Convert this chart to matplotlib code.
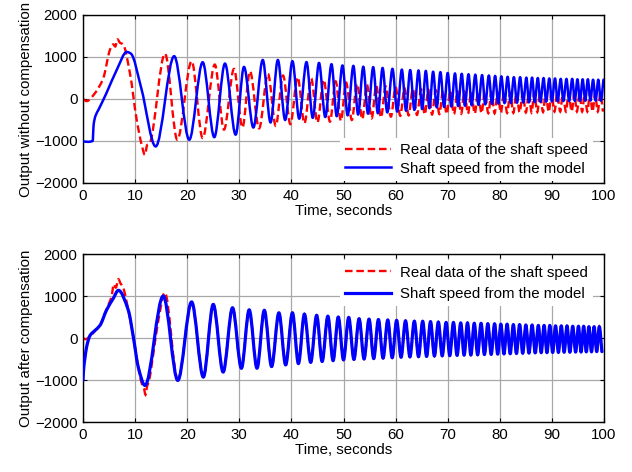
import matplotlib
matplotlib.use("Agg")
import matplotlib.pyplot as plt
import numpy as np
from matplotlib.lines import Line2D
from matplotlib.patches import PathPatch
from matplotlib.path import Path

# ---- top panel: real data (red) ----
top_real_early_t = [0, 0.7, 2.3, 3.9, 5.2, 5.8, 6.2, 6.6, 7.1, 7.7, 9.0, 10.3, 11.26, 11.9, 12.3, 12.8,
                    15.74, 18.1, 20.85, 22.97, 25.3, 27.06, 28.98, 30.6, 32.05]
top_real_early_v = [0, -50, 140, 500, 1180, 1300, 1250, 1420, 1340, 1300, 620, -490, -1090, -1330, -1100, -1050,
                    1080, -970, 900, -930, 820, -730, 717, -680, 660]
top_real_peak_t = [35.5, 38.4, 41.2, 43.8, 46.2, 48.5, 50.5, 52.6, 54.5, 56.3, 58.1, 60.0, 61.7, 63.3, 64.9,
                   66.3, 67.7, 69.1, 70.5, 71.9, 73.2, 74.5, 75.8, 77.1, 78.4, 79.6, 80.8, 82.0, 83.2, 84.4,
                   85.6, 86.6, 87.7, 88.8, 89.9, 91.0, 92.1, 93.2, 94.3, 95.3, 96.3, 97.3, 98.3, 99.3]
top_real_peak_v = [600, 560, 520, 490, 460, 420, 390, 360, 340, 320, 300, 280, 260, 240, 230,
                   220, 210, 200, 190, 180, 175, 170, 165, 160, 155, 150, 150, 145, 145, 140,
                   140, 140, 135, 135, 135, 130, 130, 130, 130, 130, 130, 130, 130, 130]
top_real_trough_t = [33.8, 37.0, 39.8, 42.5, 45.0, 47.4, 49.5, 51.6, 53.6, 55.4, 57.2, 59.1, 60.9, 62.5, 64.1,
                     65.6, 67.0, 68.4, 69.8, 71.2, 72.6, 73.9, 75.2, 76.5, 77.8, 79.0, 80.2, 81.4, 82.6, 83.8,
                     85.0, 86.1, 87.2, 88.3, 89.4, 90.5, 91.6, 92.7, 93.8, 94.8, 95.8, 96.8, 97.8, 98.8, 99.8]
top_real_trough_v = [-700, -640, -600, -580, -560, -540, -520, -500, -480, -460, -440, -420, -400, -390, -380,
                     -370, -370, -360, -360, -360, -350, -350, -350, -340, -340, -340, -330, -330, -330, -320,
                     -320, -320, -310, -310, -310, -300, -300, -300, -300, -300, -300, -300, -300, -300, -300]

# ---- top panel: model without compensation (blue) ----
top_model_early_t = [0, 1.0, 1.85, 2.05, 2.4, 3.0, 4.5, 6.5, 8.4, 9.2, 11.2, 13.95, 17.5, 20.4, 22.97, 25.2,
                     27.25, 29.3, 30.9, 32.7]
top_model_early_v = [-1010, -1020, -1000, -600, -400, -250, 140, 700, 1120, 1080, 250, -1130, 1020, -970, 876,
                     -910, 845, -850, 765, -680]
top_model_peak_t = [34.5, 37.4, 40.2, 42.9, 45.3, 47.7, 49.8, 51.9, 53.8, 55.7, 57.5, 59.4, 61.2, 62.8, 64.4,
                    65.8, 67.2, 68.6, 70.0, 71.4, 72.7, 74.0, 75.3, 76.6, 77.9, 79.1, 80.3, 81.5, 82.7, 83.9,
                    85.1, 86.2, 87.3, 88.4, 89.5, 90.6, 91.7, 92.8, 93.9, 94.9, 95.9, 96.9, 97.9, 98.9, 99.9]
top_model_peak_v = [930, 930, 900, 880, 860, 830, 800, 790, 770, 760, 740, 720, 700, 690, 680,
                    670, 650, 640, 620, 610, 600, 590, 580, 570, 560, 550, 540, 530, 520, 520,
                    510, 510, 500, 500, 490, 490, 480, 480, 480, 470, 470, 470, 460, 460, 460]
top_model_trough_t = [36.0, 38.8, 41.5, 44.1, 46.5, 48.7, 50.8, 52.8, 54.7, 56.6, 58.4, 60.3, 62.0, 63.6, 65.1,
                      66.5, 67.9, 69.3, 70.7, 72.0, 73.3, 74.6, 75.9, 77.2, 78.5, 79.7, 80.9, 82.1, 83.3, 84.5,
                      85.6, 86.7, 87.8, 88.9, 90.0, 91.1, 92.2, 93.3, 94.4, 95.4, 96.4, 97.4, 98.4, 99.4]
top_model_trough_v = [-560, -500, -470, -450, -430, -410, -390, -370, -350, -340, -320, -300, -280, -260, -240,
                      -220, -200, -190, -180, -170, -160, -150, -140, -130, -120, -110, -100, -95, -90, -85,
                      -80, -75, -70, -65, -60, -55, -50, -50, -45, -45, -40, -40, -40, -40]

# ---- bottom panel: model after compensation (blue) ----
bot_model_early_t = [0, 0.15, 0.35, 0.7, 1.35, 2.3, 3.26, 4.5, 5.8, 6.8, 8.7, 9.66, 10.6, 11.9, 15.4, 18.2,
                     20.85, 23.1, 25.0, 26.9, 28.7, 30.4, 31.9, 33.4]
bot_model_early_v = [-1000, -700, -500, -210, 60, 180, 300, 660, 940, 1135, 660, 24, -690, -1130, 1000, -1010,
                     860, -930, 800, -810, 720, -720, 670, -720]
bot_model_peak_t = [34.8, 37.6, 40.2, 42.5, 44.85, 47.0, 49.0, 51.0, 53.0, 54.9, 56.7, 58.5, 60.2, 61.9, 63.6,
                    65.2, 66.7, 68.2, 69.7, 71.1, 72.5, 73.8, 75.1, 76.4, 77.7, 79.0, 80.2, 81.4, 82.6, 83.8,
                    85.0, 86.2, 87.4, 88.5, 89.6, 90.7, 91.8, 92.9, 94.0, 95.1, 96.1, 97.1, 98.1, 99.1]
bot_model_peak_v = [660, 600, 600, 570, 540, 520, 500, 490, 460, 450, 440, 430, 420, 410, 400,
                    400, 390, 380, 370, 370, 360, 360, 350, 350, 340, 340, 330, 330, 320, 320,
                    310, 310, 300, 300, 300, 290, 290, 290, 280, 280, 280, 270, 270, 270]
bot_model_trough_t = [36.2, 38.9, 41.35, 43.7, 45.9, 48.0, 50.0, 52.0, 53.95, 55.8, 57.6, 59.35, 61.05, 62.75,
                      64.4, 65.95, 67.45, 68.95, 70.4, 71.8, 73.15, 74.45, 75.75, 77.05, 78.35, 79.6, 80.8,
                      82.0, 83.2, 84.4, 85.6, 86.8, 87.95, 89.05, 90.15, 91.25, 92.35, 93.45, 94.55, 95.6,
                      96.6, 97.6, 98.6, 99.6]
bot_model_trough_v = [-680, -640, -610, -580, -560, -540, -520, -510, -500, -490, -480, -470, -460, -450,
                      -445, -440, -430, -425, -420, -415, -410, -405, -400, -395, -390, -385, -380,
                      -375, -370, -365, -360, -355, -350, -350, -345, -345, -340, -340, -335, -335,
                      -330, -330, -325, -325]

# ---- bottom panel: real data (red); after ~16 s it lies under the model curve ----
bot_real_early_t = [0, 0.5, 1.5, 2.3, 3.26, 4.5, 5.5, 5.9, 6.3, 6.8, 7.2, 7.7, 8.7, 9.66, 10.6, 11.3, 11.7,
                    12.0, 12.3, 12.7, 13.5, 14.46, 15.7]
bot_real_early_v = [0, -30, 60, 170, 300, 680, 1000, 1280, 1200, 1400, 1300, 1200, 660, 24, -690, -1090, -1200,
                    -1350, -1150, -1000, -370, 420, 1080]

YTICKS = [-2000, -1000, 0, 1000, 2000]
XTICKS = list(range(0, 101, 10))
LABELS = ["Real data of the shaft speed", "Shaft speed from the model"]
RED, BLUE = "#ff0000", "#0000ff"
DASH = (0, (3.2, 1.6))


def series(*parts):
    """Merge (t, v) pieces and sort by time."""
    t = np.concatenate([np.asarray(p[0], float) for p in parts])
    v = np.concatenate([np.asarray(p[1], float) for p in parts])
    order = np.argsort(t, kind="stable")
    return t[order], v[order]


def smooth_path(t, v):
    """Monotone cubic Bezier path through the read points (flat at extrema)."""
    d = np.diff(v) / np.diff(t)
    m = np.empty_like(v)
    m[0], m[-1] = d[0], d[-1]
    same = d[:-1] * d[1:] > 0
    m[1:-1] = np.where(same, 2 * d[:-1] * d[1:] / np.where(same, d[:-1] + d[1:], 1), 0.0)
    verts = [(t[0], v[0])]
    codes = [Path.MOVETO]
    for i in range(len(t) - 1):
        h = (t[i + 1] - t[i]) / 3
        verts += [(t[i] + h, v[i] + m[i] * h), (t[i + 1] - h, v[i + 1] - m[i + 1] * h), (t[i + 1], v[i + 1])]
        codes += [Path.CURVE4] * 3
    return Path(verts, codes)


top_real = series((top_real_early_t, top_real_early_v), (top_real_peak_t, top_real_peak_v),
                  (top_real_trough_t, top_real_trough_v))
top_model = series((top_model_early_t, top_model_early_v), (top_model_peak_t, top_model_peak_v),
                   (top_model_trough_t, top_model_trough_v))
bot_model = series((bot_model_early_t, bot_model_early_v), (bot_model_peak_t, bot_model_peak_v),
                   (bot_model_trough_t, bot_model_trough_v))
keep = bot_model[0] > bot_real_early_t[-1] + 0.5
bot_real = series((bot_real_early_t, bot_real_early_v), (bot_model[0][keep], bot_model[1][keep]))

plt.rcParams["font.family"] = ["Liberation Sans", "DejaVu Sans"]
plt.rcParams["font.size"] = 10.8

fig = plt.figure(figsize=(6.32, 4.72), dpi=100)
ax1 = fig.add_axes([83 / 632, 1 - 183 / 472, 521 / 632, 168 / 472])
ax2 = fig.add_axes([83 / 632, 1 - 422 / 472, 521 / 632, 168 / 472])

panels = [
    (ax1, top_real, top_model, "Output without compensation", 1.8, "lower right", (1 - 9 / 521, 0.0), 0.3),
    (ax2, bot_real, bot_model, "Output after compensation", 2.3, "upper right", (1 - 9 / 521, 1 - 4 / 168), 0.5),
]
for ax, real, model, ylabel, model_lw, loc, anchor, spacing in panels:
    ax.add_patch(PathPatch(smooth_path(*real), facecolor="none", edgecolor=RED, lw=1.7, ls=DASH, zorder=2))
    ax.add_patch(PathPatch(smooth_path(*model), facecolor="none", edgecolor=BLUE, lw=model_lw, zorder=3,
                           joinstyle="round", capstyle="round"))
    ax.set_xlim(0, 100)
    ax.set_ylim(-2000, 2000)
    ax.set_xticks(XTICKS)
    ax.set_yticks(YTICKS)
    ax.grid(True, color="#a8a8a8", lw=0.9, ls="-")
    ax.set_axisbelow(True)
    ax.tick_params(direction="in", length=3, width=0.8, top=True, right=True, pad=4)
    for s in ax.spines.values():
        s.set_linewidth(1.0)
    ax.set_xlabel("Time, seconds", labelpad=1)
    ax.set_ylabel(ylabel, labelpad=1)
    handles = [Line2D([], [], color=RED, lw=1.7, ls=DASH), Line2D([], [], color=BLUE, lw=model_lw)]
    leg = ax.legend(handles, LABELS, loc=loc, bbox_to_anchor=anchor, borderaxespad=0.15, frameon=True,
                    fancybox=False, framealpha=1.0, edgecolor="white", handlelength=3.1, handletextpad=0.55,
                    labelspacing=spacing, borderpad=0.35)
    leg.get_frame().set_linewidth(0)

fig.savefig("out.png", dpi=100)
